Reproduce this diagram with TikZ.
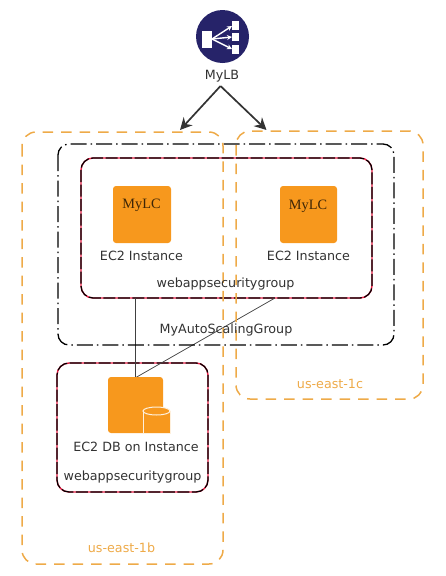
\documentclass[tikz,border=0pt]{standalone}
\usepackage{fontspec}
\setmainfont{DejaVu Sans}
\newfontfamily\serifish{Liberation Serif}
\usetikzlibrary{arrows.meta,calc}
\definecolor{zoneor}{RGB}{238,170,72}
\definecolor{awsor}{RGB}{247,152,29}
\definecolor{lbnavy}{RGB}{38,35,105}
\definecolor{txt}{RGB}{50,50,50}
\definecolor{sgred}{RGB}{235,30,70}
\tikzset{
 zonebox/.style={draw=zoneor,line width=1.5pt,dash pattern=on 10.5pt off 8pt,rounded corners=14pt},
 asgbox/.style={draw=black,line width=1.3pt,dash pattern=on 16pt off 4pt on 1.5pt off 4pt,rounded corners=11pt},
 sgbase/.style={draw=sgred,line width=1.4pt,rounded corners=12pt},
 sgbox/.style={draw=black,line width=1.2pt,dash pattern=on 12pt off 2.5pt,rounded corners=12pt},
 ecbox/.style={fill=awsor,rounded corners=3pt},
 lbl/.style={text=txt,font=\fontsize{12.7}{14}\selectfont,inner sep=0pt},
 zonelbl/.style={text=zoneor,font=\fontsize{12.7}{14}\selectfont,inner sep=0pt},
 lbarrow/.style={draw=black!80,line width=1.7pt,-{Stealth[length=12pt,width=12pt]}},
 link/.style={draw=black!75,line width=0.7pt},
 mylc/.style={font=\serifish\fontsize{14.3}{16}\selectfont,text=black!75!awsor,inner sep=0pt}
}
\begin{document}
\begin{tikzpicture}[x=1pt,y=-1pt]
\useasboundingbox (0,0) rectangle (446,576);
% security groups
\draw[sgbase] (81,158) rectangle (372,298);
\draw[sgbox] (81,158) rectangle (372,298);
\draw[sgbase] (57,363) rectangle (208,492);
\draw[sgbox] (57,363) rectangle (208,492);
% connector anchors
\coordinate (sgleft) at (135,298);
\coordinate (sgright) at (275,298);
\coordinate (dbtop) at (135,378);
\draw[link] (sgleft) -- (dbtop);
\draw[link] (sgright) -- (dbtop);
% auto scaling group
\draw[asgbox] (58,144) rectangle (394,345);
% zones
\node[zonelbl] (zb) at (121.5,548) {us-east-1b};
\node[zonelbl] (zc) at (330,384) {us-east-1c};
\draw[zonebox] (22,132) rectangle (223,564);
\draw[zonebox] (236,131) rectangle (423,399);
% instances
\path[ecbox] (113,186) rectangle (171,243);
\node[mylc] (lc1) at (141.5,205.5) {MyLC};
\path[ecbox] (280,186) rectangle (337,243);
\node[mylc] (lc2) at (308,206.5) {MyLC};
\node[lbl] (ec1) at (141.5,256) {EC2 Instance};
\node[lbl] (ec2) at (308.5,256) {EC2 Instance};
\node[lbl] (sg1) at (225.5,283.5) {webappsecuritygroup};
\node[lbl] (asg) at (226,330) {MyAutoScalingGroup};
% DB instance
\path[ecbox] (108,377) rectangle (163,433);
\draw[draw=white!85!awsor,fill=awsor,line width=1pt] (143,411) -- (143,433) -- (170,433) -- (170,411);
\draw[draw=white!85!awsor,fill=awsor,line width=1pt] (156.5,411) ellipse [x radius=13.5,y radius=4];
\node[lbl] (dbl) at (136,447) {EC2 DB on Instance};
\node[lbl] (sg2) at (132.5,477) {webappsecuritygroup};
% load balancer
\fill[lbnavy] (222.5,36.5) circle (26.5);
\fill[white] (202,31) rectangle (212,48);
\fill[white] (232,21) rectangle (239,30);
\fill[white] (232,33) rectangle (239,41);
\fill[white] (232,45) rectangle (239,54);
\draw[white,line width=1.4pt,-{Stealth[length=5pt,width=5pt]}] (212,39) -- (232,26);
\draw[white,line width=1.4pt,-{Stealth[length=5pt,width=5pt]}] (212,39) -- (232,37);
\draw[white,line width=1.4pt,-{Stealth[length=5pt,width=5pt]}] (212,39) -- (232,49);
\node[lbl] (lb) at (222,76) {MyLB};
\coordinate (lbfoot) at (220.5,86);
\coordinate (ta) at (180,130);
\coordinate (tb) at (266.5,130);
\draw[lbarrow] (lbfoot) -- (ta);
\draw[lbarrow] (lbfoot) -- (tb);
\end{tikzpicture}
\end{document}
